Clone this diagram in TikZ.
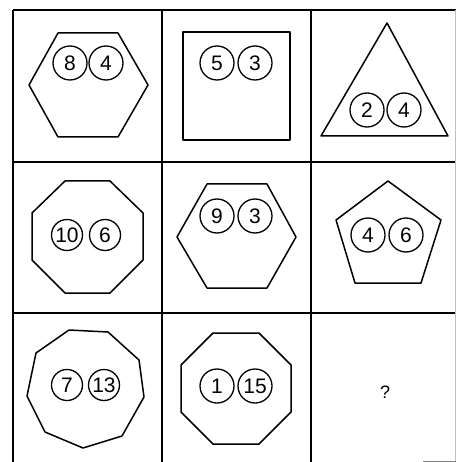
\documentclass[tikz,border=0pt]{standalone}
\usepackage{fontspec}
\setmainfont{Liberation Sans}
\begin{document}
\begin{tikzpicture}[x=1pt,y=-1pt,
  grid/.style={line width=1.5pt,black},
  shp/.style={line width=1.5pt,line join=round,black},
  num/.style={circle,draw,line width=1.3pt,inner sep=0pt,minimum size=34pt,font=\fontsize{21}{21}\selectfont},
  numsm/.style={num,minimum size=31pt}]
\useasboundingbox (0,0) rectangle (456,462);
% grid
\draw[grid] (13,10) -- (456,10);
\draw[grid] (13,10) -- (13,462);
\draw[grid] (162,10) -- (162,462);
\draw[grid] (311,10) -- (311,462);
\draw[grid] (13,162) -- (456,162);
\draw[grid] (13,313) -- (456,313);
\draw[line width=0.6pt,black!25] (455,10) -- (455,462);
\draw[line width=0.8pt,black!50] (423,461) -- (456,461);
% cell 1,1 hexagon
\draw[shp] (58,33) -- (118,33) -- (148,85) -- (118,137) -- (58,137) -- (29,85) -- cycle;
\node[num] (a1) at (70,63) {8};
\node[num] (a2) at (106,63) {4};
% cell 1,2 square
\draw[shp] (183,32) rectangle (290,140);
\node[num] (b1) at (217,63) {5};
\node[num] (b2) at (255,63) {3};
% cell 1,3 triangle
\draw[shp] (387,23) -- (448,136) -- (321,136) -- cycle;
\node[num] (c1) at (367,110) {2};
\node[num] (c2) at (404,110) {4};
% cell 2,1 octagon
\draw[shp] (65,181) -- (110,181) -- (143,213) -- (143,260) -- (110,293) -- (65,293) -- (32,260) -- (32,213) -- cycle;
\node[numsm] (d1) at (67,235) {10};
\node[numsm] (d2) at (105,235) {6};
% cell 2,2 hexagon
\draw[shp] (207,184) -- (267,184) -- (296,237) -- (267,288) -- (207,288) -- (177,237) -- cycle;
\node[num] (e1) at (217,216) {9};
\node[num] (e2) at (255,216) {3};
% cell 2,3 pentagon
\draw[shp] (388,181) -- (441,220) -- (421,283) -- (355,283) -- (336,220) -- cycle;
\node[num] (f1) at (368,235) {4};
\node[num] (f2) at (406,235) {6};
% cell 3,1 nonagon
\draw[shp] (69,330) -- (108,332) -- (139,360) -- (144,397) -- (122,436) -- (83,448) -- (45,432) -- (27,396) -- (36,353) -- cycle;
\node[numsm] (g1) at (67,385) {7};
\node[numsm] (g2) at (104,385) {13};
% cell 3,2 octagon
\draw[shp] (213,333) -- (259,333) -- (291,365) -- (291,412) -- (259,444) -- (213,444) -- (181,412) -- (181,365) -- cycle;
\node[num] (h1) at (217,386) {1};
\node[num] (h2) at (255,386) {15};
% cell 3,3
\node[font=\fontsize{18}{18}\selectfont] (q) at (385,392) {?};
\end{tikzpicture}
\end{document}
